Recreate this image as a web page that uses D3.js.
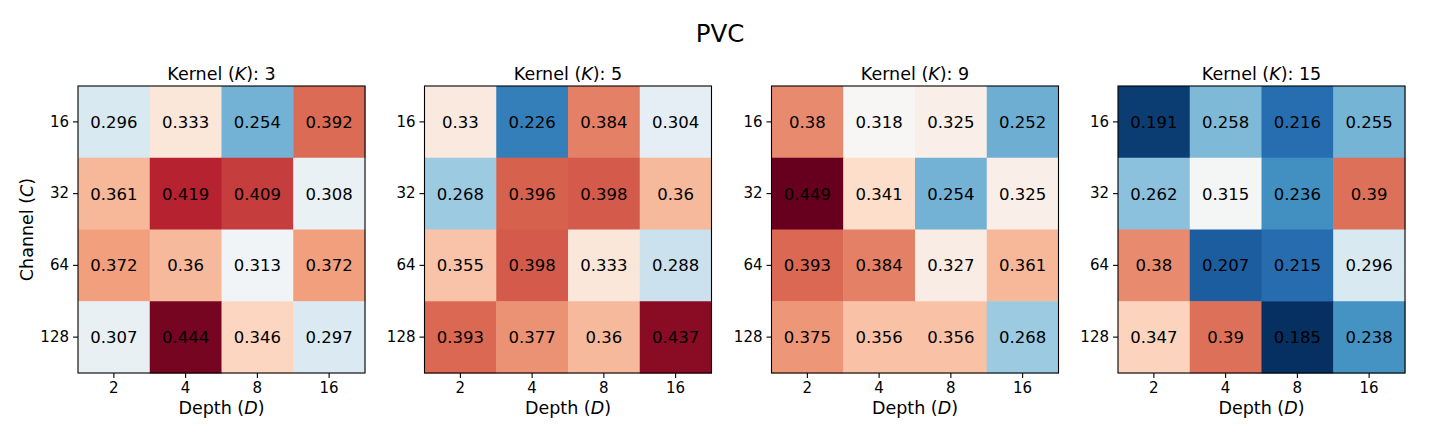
<!DOCTYPE html>
<html>
<head>
<meta charset="utf-8">
<script src="https://cdn.jsdelivr.net/npm/d3@7"></script>
<style>
  body { margin: 0; background: #fff; }
  svg { display: block; font-family: "DejaVu Sans", sans-serif; }
  .tick text { font-size: 15px; fill: #000; }
  .tick line { stroke: #000; stroke-width: 1.1; }
</style>
</head>
<body>
<div id="chart"></div>
<script>
// Data: rows = channel, columns = depth, one matrix per kernel size
const kernels = [3, 5, 9, 15];
const depths = ['2', '4', '8', '16'];
const channels = ['16', '32', '64', '128'];

const k3 = [
  [0.296, 0.333, 0.254, 0.392],
  [0.361, 0.419, 0.409, 0.308],
  [0.372, 0.36, 0.313, 0.372],
  [0.307, 0.444, 0.346, 0.297]
];
const k5 = [
  [0.33, 0.226, 0.384, 0.304],
  [0.268, 0.396, 0.398, 0.36],
  [0.355, 0.398, 0.333, 0.288],
  [0.393, 0.377, 0.36, 0.437]
];
const k9 = [
  [0.38, 0.318, 0.325, 0.252],
  [0.449, 0.341, 0.254, 0.325],
  [0.393, 0.384, 0.327, 0.361],
  [0.375, 0.356, 0.356, 0.268]
];
const k15 = [
  [0.191, 0.258, 0.216, 0.255],
  [0.262, 0.315, 0.236, 0.39],
  [0.38, 0.207, 0.215, 0.296],
  [0.347, 0.39, 0.185, 0.238]
];
const matrices = [k3, k5, k9, k15];

// matplotlib RdBu_r control colours (blue -> red)
const rdbuR = ['#053061', '#2166ac', '#4393c3', '#92c5de', '#d1e5f0', '#f7f7f7',
               '#fddbc7', '#f4a582', '#d6604d', '#b2182b', '#67001f'];

const W = 1440, H = 432;
const svg = d3.select('#chart').append('svg')
  .attr('width', W)
  .attr('height', H);

const allVals = matrices.flat(2);
const vmin = d3.min(allVals), vmax = d3.max(allVals);
const color = d3.scaleLinear()
  .domain(d3.range(11).map(i => vmin + (vmax - vmin) * i / 10))
  .range(rdbuR)
  .interpolate(d3.interpolateRgb)
  .clamp(true);

// Figure title
svg.append('text')
  .attr('x', 720)
  .attr('y', 41.5)
  .attr('text-anchor', 'middle')
  .style('font-size', '24.5px')
  .text('PVC');

const size = 287;
const topY = 86;
const lefts = [78, 424.5, 771.5, 1118];

matrices.forEach((mat, p) => {
  const g = svg.append('g')
    .attr('transform', `translate(${lefts[p]}, ${topY})`);

  const x = d3.scaleBand().domain(depths).range([0, size]).padding(0);
  const y = d3.scaleBand().domain(channels).range([0, size]).padding(0);

  const cells = mat.flatMap((row, i) => row.map((v, j) => ({
    c: channels[i], d: depths[j], v: v
  })));

  g.selectAll('.cell')
    .data(cells)
    .enter()
    .append('rect')
    .attr('class', 'cell')
    .attr('x', d => x(d.d))
    .attr('y', d => y(d.c))
    .attr('width', x.bandwidth() + 0.5)
    .attr('height', y.bandwidth() + 0.5)
    .attr('fill', d => color(d.v));

  g.selectAll('.val')
    .data(cells)
    .enter()
    .append('text')
    .attr('class', 'val')
    .attr('x', d => x(d.d) + x.bandwidth() / 2)
    .attr('y', d => y(d.c) + y.bandwidth() / 2)
    .attr('text-anchor', 'middle')
    .attr('dy', '0.36em')
    .style('font-size', '16.5px')
    .text(d => String(d.v));

  // frame
  g.append('rect')
    .attr('width', size)
    .attr('height', size)
    .attr('fill', 'none')
    .attr('stroke', '#000')
    .attr('stroke-width', 1.1);

  const xAxis = g.append('g')
    .attr('transform', `translate(0, ${size})`)
    .call(d3.axisBottom(x).tickSize(5).tickSizeOuter(0).tickPadding(4));
  const yAxis = g.append('g')
    .call(d3.axisLeft(y).tickSize(5).tickSizeOuter(0).tickPadding(4));
  [xAxis, yAxis].forEach(a => {
    a.select('.domain').remove();
    a.attr('font-family', null).attr('font-size', null);
  });

  // subplot title
  const t = g.append('text')
    .attr('x', size / 2)
    .attr('y', -6)
    .attr('text-anchor', 'middle')
    .style('font-size', '17.5px');
  t.append('tspan').text('Kernel (');
  t.append('tspan').style('font-style', 'italic').text('K');
  t.append('tspan').text(`): ${kernels[p]}`);

  // x label
  const xl = g.append('text')
    .attr('x', size / 2)
    .attr('y', size + 41)
    .attr('text-anchor', 'middle')
    .style('font-size', '17.5px');
  xl.append('tspan').text('Depth (');
  xl.append('tspan').style('font-style', 'italic').text('D');
  xl.append('tspan').text(')');

  if (p === 0) {
    const yl = g.append('text')
      .attr('transform', `translate(-45, ${size / 2}) rotate(-90)`)
      .attr('text-anchor', 'middle')
      .style('font-size', '17.5px');
    yl.append('tspan').text('Channel (');
    yl.append('tspan').style('font-style', 'italic').text('C');
    yl.append('tspan').text(')');
  }
});
</script>
</body>
</html>
